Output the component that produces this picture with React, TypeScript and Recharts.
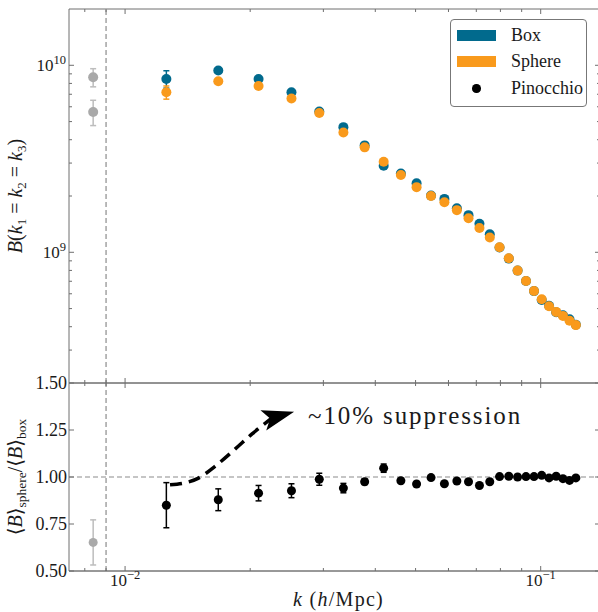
import React from 'react';
import { ComposedChart, Scatter, Line, XAxis, YAxis, ErrorBar, ReferenceLine, ReferenceDot } from 'recharts';

// wavenumber bins (h/Mpc)
const K_BINS = [
  0.01257, 0.01676, 0.02095, 0.02514, 0.02933, 0.03352, 0.03771, 0.0419, 0.04609,
  0.05028, 0.05447, 0.05866, 0.06285, 0.06704, 0.07123, 0.07542, 0.07961, 0.0838,
  0.08799, 0.09218, 0.09637, 0.10056, 0.10475, 0.10894, 0.11313, 0.11732, 0.12151,
];

// equilateral bispectrum, box and sphere
const BOX_B = [
  8.45e9, 9.37e9, 8.45e9, 7.17e9, 5.66e9, 4.67e9, 3.73e9, 2.9e9, 2.64e9,
  2.34e9, 2.01e9, 1.93e9, 1.72e9, 1.58e9, 1.42e9, 1.25e9, 1.06e9, 9.25e8,
  7.98e8, 7.02e8, 6.2e8, 5.56e8, 5.18e8, 4.78e8, 4.61e8, 4.38e8, 4.1e8,
];
const BOX_ERR = [
  9.0e8, 2.5e8, 1.5e8, 1.0e8, 7e7, 5e7, 4e7, 3e7, 3e7,
  2e7, 2e7, 2e7, 1e7, 1e7, 1e7, 1e7, 1e7, 1e7,
  1e7, 1e7, 5e6, 5e6, 5e6, 5e6, 5e6, 5e6, 5e6,
];
const SPHERE_B = [
  7.17e9, 8.21e9, 7.75e9, 6.64e9, 5.56e9, 4.37e9, 3.64e9, 3.05e9, 2.59e9,
  2.23e9, 2.0e9, 1.85e9, 1.68e9, 1.52e9, 1.35e9, 1.2e9, 1.063e9, 9.29e8,
  7.98e8, 7.03e8, 6.21e8, 5.61e8, 5.15e8, 4.8e8, 4.57e8, 4.3e8, 4.08e8,
];
const SPHERE_ERR = [
  5.8e8, 2.0e8, 1.2e8, 8e7, 6e7, 4e7, 3e7, 3e7, 2e7,
  2e7, 2e7, 1e7, 1e7, 1e7, 1e7, 1e7, 1e7, 1e7,
  1e7, 5e6, 5e6, 5e6, 5e6, 5e6, 5e6, 5e6, 5e6,
];

// Pinocchio ratio <B>_sphere / <B>_box
const RATIO = [
  0.85, 0.879, 0.914, 0.927, 0.988, 0.941, 0.975, 1.047, 0.98,
  0.963, 0.997, 0.964, 0.979, 0.975, 0.955, 0.975, 1.002, 1.004,
  1.0, 1.002, 1.002, 1.009, 0.995, 1.004, 0.991, 0.982, 0.995,
];
const RATIO_ERR = [
  0.12, 0.058, 0.041, 0.037, 0.032, 0.025, 0.015, 0.022, 0.012,
  0.01, 0.01, 0.008, 0.008, 0.007, 0.007, 0.006, 0.005, 0.005,
  0.005, 0.004, 0.004, 0.004, 0.004, 0.004, 0.004, 0.004, 0.004,
];

// first bin, below the fundamental-mode line (grey)
const LOWK = 0.00838;
const LOWK_B = [8.63e9, 5.63e9];
const LOWK_B_ERR = [9.6e8, 8.7e8];
const LOWK_RATIO = 0.652;
const LOWK_RATIO_ERR = 0.12;

const K_LIMIT = 0.009;

// annotation arrow path and label
const ARROW_K = [0.01283, 0.01394, 0.01498, 0.01646, 0.01839, 0.02021, 0.02257];
const ARROW_R = [0.959, 0.969, 0.993, 1.057, 1.148, 1.229, 1.314];
const NOTE = '~10% suppression';
const NOTE_K = 0.02755;
const NOTE_R = 1.282;

const X_DOMAIN = [0.00733, 0.1389];
const X_TICKS = [0.008, 0.009, 0.01, 0.02, 0.03, 0.04, 0.05, 0.06, 0.07, 0.08, 0.09, 0.1];
const B_DOMAIN = [2e8, 2e10];
const B_TICKS = [3e8, 4e8, 5e8, 6e8, 7e8, 8e8, 9e8, 1e9, 2e9, 3e9, 4e9, 5e9, 6e9, 7e9, 8e9, 9e9, 1e10];
const R_DOMAIN = [0.5, 1.5];
const R_TICKS = [0.5, 0.75, 1.0, 1.25, 1.5];

const BLUE = '#016a8d';
const ORANGE = '#f99a1c';
const GREY = '#a9a9a9';
const AXIS = '#6e6e6e';
const TEXT = '#1a1a1a';
const FONT = '"Liberation Serif", "DejaVu Serif", serif';

const boxData = K_BINS.map((k, i) => ({ k, v: BOX_B[i], e: BOX_ERR[i] }));
const sphereData = K_BINS.map((k, i) => ({ k, v: SPHERE_B[i], e: SPHERE_ERR[i] }));
const lowkData = LOWK_B.map((v, i) => ({ k: LOWK, v, e: LOWK_B_ERR[i] }));
const ratioData = K_BINS.map((k, i) => ({ k, r: RATIO[i], e: RATIO_ERR[i] }));
const lowkRatio = [{ k: LOWK, r: LOWK_RATIO, e: LOWK_RATIO_ERR }];
const arrowData = ARROW_K.map((k, i) => ({ k, r: ARROW_R[i] }));

const isDecade = (v: number) => Math.abs(Math.log10(v) - Math.round(Math.log10(v))) < 1e-9;
const expText = (v: number) => {
  const e = Math.round(Math.log10(v));
  return e < 0 ? `\u2212${-e}` : `${e}`;
};

const XTick = ({ x, y, payload, dir, withLabel }: any) => {
  const major = isDecade(payload.value);
  return (
    <g>
      <line x1={x} x2={x} y1={y} y2={y + dir * (major ? 5 : 3)} stroke={AXIS} />
      {withLabel && major && (
        <text x={x} y={y + 15} textAnchor="middle" fontSize={17} fill={TEXT} fontFamily={FONT}>
          10<tspan dy={-7} fontSize={12.5}>{expText(payload.value)}</tspan>
        </text>
      )}
    </g>
  );
};

const LogYTick = ({ x, y, payload, dir, withLabel }: any) => {
  const major = isDecade(payload.value);
  return (
    <g>
      <line x1={x} x2={x + dir * (major ? 5 : 3)} y1={y} y2={y} stroke={AXIS} />
      {withLabel && major && (
        <text x={x - 3} y={y + 6} textAnchor="end" fontSize={17} fill={TEXT} fontFamily={FONT}>
          10<tspan dy={-7} fontSize={12.5}>{expText(payload.value)}</tspan>
        </text>
      )}
    </g>
  );
};

const LinYTick = ({ x, y, payload, dir, withLabel }: any) => (
  <g>
    <line x1={x} x2={x + dir * 5} y1={y} y2={y} stroke={AXIS} />
    {withLabel && (
      <text x={x - 2} y={y + 5.5} textAnchor="end" fontSize={18} fill={TEXT} fontFamily={FONT}>
        {payload.value.toFixed(2)}
      </text>
    )}
  </g>
);

const BTitle = ({ viewBox }: any) => {
  const cx = viewBox.x - 46;
  const cy = viewBox.y + viewBox.height / 2;
  return (
    <text x={cx} y={cy} transform={`rotate(-90 ${cx} ${cy})`} textAnchor="middle" fontSize={20} fill={TEXT} fontFamily={FONT}>
      <tspan fontStyle="italic">B</tspan>(<tspan fontStyle="italic">k</tspan>
      <tspan fontSize={13} dy={4}>1</tspan>
      <tspan dy={-4}> = </tspan><tspan fontStyle="italic">k</tspan>
      <tspan fontSize={13} dy={4}>2</tspan>
      <tspan dy={-4}> = </tspan><tspan fontStyle="italic">k</tspan>
      <tspan fontSize={13} dy={4}>3</tspan>
      <tspan dy={-4}>)</tspan>
    </text>
  );
};

const RTitle = ({ viewBox }: any) => {
  const cx = viewBox.x - 46;
  const cy = viewBox.y + viewBox.height / 2;
  return (
    <text x={cx} y={cy} transform={`rotate(-90 ${cx} ${cy})`} textAnchor="middle" fontSize={20} fill={TEXT} fontFamily={FONT}>
      {'\u27e8'}<tspan fontStyle="italic">B</tspan>{'\u27e9'}
      <tspan fontSize={13.5} dy={4}>sphere</tspan>
      <tspan dy={-4}>/{'\u27e8'}</tspan><tspan fontStyle="italic">B</tspan>{'\u27e9'}
      <tspan fontSize={13.5} dy={4}>box</tspan>
    </text>
  );
};

const KTitle = ({ viewBox }: any) => (
  <text x={viewBox.x + viewBox.width / 2 + 4} y={viewBox.y + 35} textAnchor="middle" fontSize={20} letterSpacing={1.3} fill={TEXT} fontFamily={FONT}>
    <tspan fontStyle="italic">k</tspan> (<tspan fontStyle="italic">h</tspan>/Mpc)
  </text>
);

const dotShape = (fill: string, r: number) => (p: any) => <circle cx={p.cx} cy={p.cy} r={r} fill={fill} />;

const arrowHead = (p: any) =>
  p.index === ARROW_K.length - 1 ? (
    <polygon
      key="head"
      points="-2,0 -9,-10.5 23,0 -9,10.5"
      fill="#000"
      transform={`translate(${p.cx},${p.cy}) rotate(-16)`}
    />
  ) : (
    <g key={`d${p.index}`} />
  );

const axisCommon = { tickSize: 0, tickMargin: 0, tickLine: false, interval: 0 as const, allowDataOverflow: true };

const Legend = () => {
  const rows = [
    { label: 'Box', swatch: <div style={{ width: 39, height: 11, background: BLUE }} /> },
    { label: 'Sphere', swatch: <div style={{ width: 39, height: 11, background: ORANGE }} /> },
    {
      label: 'Pinocchio',
      swatch: (
        <div style={{ width: 39, display: 'flex', justifyContent: 'center' }}>
          <div style={{ width: 8.5, height: 8.5, borderRadius: '50%', background: '#000' }} />
        </div>
      ),
    },
  ];
  return (
    <div
      style={{
        position: 'absolute', left: 450, top: 19, width: 135, height: 86,
        border: '1px solid #777', borderRadius: 4, background: '#fff', fontSize: 18, color: TEXT, fontFamily: FONT,
      }}
    >
      {rows.map((r, i) => (
        <div key={r.label} style={{ position: 'absolute', left: 6, top: 15 + i * 26.7 - 11, height: 22, display: 'flex', alignItems: 'center' }}>
          {r.swatch}
          <span style={{ marginLeft: 15 }}>{r.label}</span>
        </div>
      ))}
    </div>
  );
};

export default function App() {
  return (
    <div style={{ position: 'absolute', left: 0, top: 0, width: 598, height: 612, overflow: 'hidden', background: '#fff', fontFamily: FONT }}>
      <div style={{ position: 'absolute', left: 0, top: 0 }}>
        <ComposedChart width={601} height={390} margin={{ top: 8, right: 0, bottom: 6, left: 68 }}>
          <XAxis xAxisId="b" dataKey="k" type="number" scale="log" domain={X_DOMAIN} ticks={X_TICKS} height={1}
            axisLine={{ stroke: AXIS }} tick={(p: any) => <XTick {...p} dir={-1} />} {...axisCommon} />
          <XAxis xAxisId="t" orientation="top" dataKey="k" type="number" scale="log" domain={X_DOMAIN} ticks={X_TICKS} height={1}
            axisLine={{ stroke: AXIS }} tick={(p: any) => <XTick {...p} dir={1} />} {...axisCommon} />
          <YAxis yAxisId="l" type="number" scale="log" domain={B_DOMAIN} ticks={B_TICKS} width={1}
            axisLine={{ stroke: AXIS }} tick={(p: any) => <LogYTick {...p} dir={1} withLabel />} label={<BTitle />} {...axisCommon} />
          <YAxis yAxisId="r" orientation="right" type="number" scale="log" domain={B_DOMAIN} ticks={B_TICKS} width={1}
            axisLine={{ stroke: AXIS }} tick={(p: any) => <LogYTick {...p} dir={-1} />} {...axisCommon} />
          <ReferenceLine xAxisId="b" yAxisId="l" x={K_LIMIT} stroke="#8c8c8c" strokeWidth={1.2} strokeDasharray="5 3" />
          <Scatter xAxisId="b" yAxisId="l" data={lowkData} dataKey="v" shape={dotShape(GREY, 5)} isAnimationActive={false}>
            <ErrorBar dataKey="e" direction="y" width={3} stroke="#bdbdbd" strokeWidth={1.5} />
          </Scatter>
          <Scatter xAxisId="b" yAxisId="l" data={boxData} dataKey="v" shape={dotShape(BLUE, 5)} isAnimationActive={false}>
            <ErrorBar dataKey="e" direction="y" width={3} stroke={BLUE} strokeWidth={1.5} />
          </Scatter>
          <Scatter xAxisId="b" yAxisId="l" data={sphereData} dataKey="v" shape={dotShape(ORANGE, 5)} isAnimationActive={false}>
            <ErrorBar dataKey="e" direction="y" width={3} stroke={ORANGE} strokeWidth={1.5} />
          </Scatter>
        </ComposedChart>
      </div>
      <div style={{ position: 'absolute', left: 0, top: 370 }}>
        <ComposedChart width={601} height={242} margin={{ top: 12, right: 0, bottom: 40, left: 68 }}>
          <XAxis xAxisId="b" dataKey="k" type="number" scale="log" domain={X_DOMAIN} ticks={X_TICKS} height={1}
            axisLine={{ stroke: '#333' }} tick={(p: any) => <XTick {...p} dir={-1} withLabel />} label={<KTitle />} {...axisCommon} />
          <XAxis xAxisId="t" orientation="top" dataKey="k" type="number" scale="log" domain={X_DOMAIN} ticks={X_TICKS} height={1}
            axisLine={{ stroke: AXIS }} tick={(p: any) => <XTick {...p} dir={1} />} {...axisCommon} />
          <YAxis yAxisId="l" type="number" domain={R_DOMAIN} ticks={R_TICKS} width={1}
            axisLine={{ stroke: AXIS }} tick={(p: any) => <LinYTick {...p} dir={1} withLabel />} label={<RTitle />} {...axisCommon} />
          <YAxis yAxisId="r" orientation="right" type="number" domain={R_DOMAIN} ticks={R_TICKS} width={1}
            axisLine={{ stroke: AXIS }} tick={(p: any) => <LinYTick {...p} dir={-1} />} {...axisCommon} />
          <ReferenceLine xAxisId="b" yAxisId="l" x={K_LIMIT} stroke="#8c8c8c" strokeWidth={1.2} strokeDasharray="5 3" />
          <ReferenceLine xAxisId="b" yAxisId="l" y={1} stroke="#8c8c8c" strokeWidth={1.2} strokeDasharray="5 3" />
          <Scatter xAxisId="b" yAxisId="l" data={lowkRatio} dataKey="r" shape={dotShape(GREY, 4.5)} isAnimationActive={false}>
            <ErrorBar dataKey="e" direction="y" width={3} stroke="#bdbdbd" strokeWidth={1.5} />
          </Scatter>
          <Scatter xAxisId="b" yAxisId="l" data={ratioData} dataKey="r" shape={dotShape('#000', 4.5)} isAnimationActive={false}>
            <ErrorBar dataKey="e" direction="y" width={3} stroke="#000" strokeWidth={1.5} />
          </Scatter>
          <Line xAxisId="b" yAxisId="l" data={arrowData} dataKey="r" type="monotone" stroke="#000" strokeWidth={3.5}
            strokeDasharray="12 7" dot={arrowHead} activeDot={false} isAnimationActive={false} />
          <ReferenceDot xAxisId="b" yAxisId="l" x={NOTE_K} y={NOTE_R} r={0} ifOverflow="visible"
            shape={(p: any) => (
              <text x={p.cx} y={p.cy} fontSize={25} letterSpacing={1.9} fill={TEXT} fontFamily={FONT}>{NOTE}</text>
            )} />
        </ComposedChart>
      </div>
      <Legend />
    </div>
  );
}
